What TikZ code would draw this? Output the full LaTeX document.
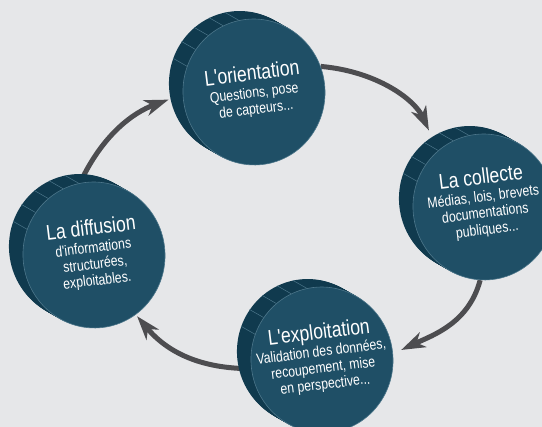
\documentclass[tikz,border=0pt]{standalone}
\usepackage{fontspec}
\setmainfont[FakeStretch=0.82,Ligatures=TeXOff]{Liberation Sans}
\usepackage{tikz}
\usetikzlibrary{shapes.geometric,arrows.meta}
\definecolor{discface}{RGB}{31,79,102}
\definecolor{discside}{RGB}{16,58,78}
\definecolor{discrim}{RGB}{76,118,138}
\definecolor{arrowgray}{RGB}{77,77,80}
\definecolor{pagegray}{RGB}{230,231,233}

\pgfdeclarelayer{back}
\pgfdeclarelayer{rim}
\pgfsetlayers{back,rim,main}

\tikzset{
  disc/.style={ellipse, minimum width=142pt, minimum height=146pt, inner sep=0pt,
    rotate=7, fill=discface, draw=discrim, line width=0.6pt},
  discback/.style={ellipse, minimum width=142pt, minimum height=146pt, inner sep=0pt,
    rotate=7, fill=discside},
  disctext/.style={text=white, align=center, rotate=7, inner sep=0pt,
    font=\fontsize{15}{16.5}\selectfont},
  looparrow/.style={arrowgray, line width=5pt,
    -{Stealth[length=24pt,width=16pt,inset=7pt]}}
}
\newcommand{\phasetitle}[1]{{\fontsize{21.5}{23}\selectfont #1}}

\begin{document}
\begin{tikzpicture}[x=1pt,y=1pt]
    % Background
    \useasboundingbox (0,0) rectangle (542,427);
    \begin{pgfonlayer}{back}
        \fill[pagegray] (0,0) rectangle (542,427);
    \end{pgfonlayer}

    % Discs
    \node[disc] (orient) at (254,335) {};
    \node[disc] (collect) at (484,220) {};
    \node[disc] (exploit) at (322,67) {};
    \node[disc] (diffus) at (94,172) {};

    % Thickness of the discs
    \begin{pgfonlayer}{rim}
        \foreach \d in {orient,collect,exploit,diffus} {
            \foreach \k in {1,...,14}
                \node[discback] at ([shift={(-\k,0.57*\k)}]\d.center) {};
            \foreach \a in {95,108,122,137,152}
                \draw[discrim, line width=0.5pt] (\d.\a) -- ++(-14,8);
        }
    \end{pgfonlayer}

    % Labels
    \node[disctext] (orient-label) at ([yshift=1pt]orient.center)
        {\phasetitle{L'orientation}\\[1pt] Questions, pose\\ de capteurs...};
    \node[disctext] (collect-label) at ([yshift=4pt]collect.center)
        {\phasetitle{La collecte}\\[1pt] Médias, lois, brevets\\ documentations\\ publiques...};
    \node[disctext] (exploit-label) at ([yshift=2pt]exploit.center)
        {\phasetitle{L'exploitation}\\[1pt] Validation des données,\\ recoupement, mise\\ en perspective...};
    \node[disctext] (diffus-label) at ([yshift=1pt]diffus.center)
        {\phasetitle{La diffusion}\\[1pt] d'informations\\ structurées,\\ exploitables.};

    % Cycle arrows
    \begin{pgfonlayer}{back}
        \draw[looparrow, shorten >=22pt] (orient.14) to[out=-5,in=115] (collect.122);
        \draw[looparrow, shorten >=9pt] (collect.-100) to[out=-105,in=25] (exploit.-2);
        \draw[looparrow, shorten >=2pt] (exploit.180) to[out=180,in=-50] (diffus.-62);
        \draw[looparrow, shorten >=15pt] (diffus.94) to[out=65,in=200] (orient.175);
    \end{pgfonlayer}
\end{tikzpicture}
\end{document}
